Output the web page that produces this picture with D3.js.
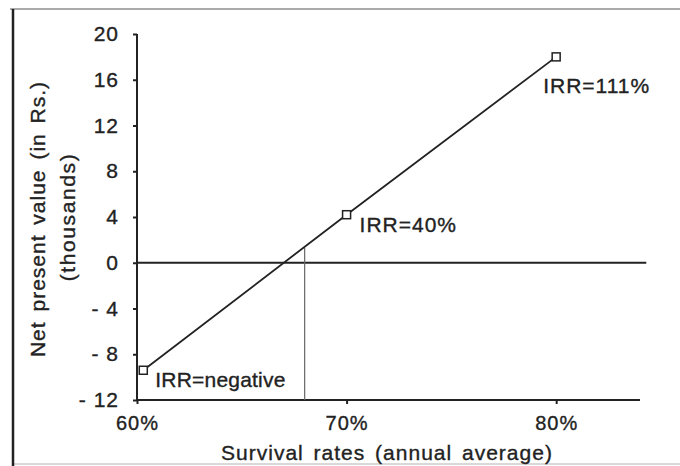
<!DOCTYPE html>
<html><head><meta charset="utf-8">
<script src="https://cdn.jsdelivr.net/npm/d3@7"></script>
<style>body{margin:0;background:#fff}svg{display:block}text{font-family:"Liberation Sans",Arial,Helvetica,sans-serif;fill:#222;stroke:#222;stroke-width:0.35px;letter-spacing:1px}</style>
</head><body>
<script>
const survival = [60.3, 70, 80];
const npv = [-9.4, 4.2, 18.0];
const irrLabels = ["IRR=negative", "IRR=40%", "IRR=111%"];
const yTicks = [20, 16, 12, 8, 4, 0, -4, -8, -12];
const xTicks = [60, 70, 80];
const breakEvenRate = 68;

const W = 680, H = 466;
const svg = d3.select("body").append("svg").attr("width", W).attr("height", H);

// frame
svg.append("line").attr("x1", 10).attr("x2", 680).attr("y1", 9).attr("y2", 9).attr("stroke", "#aaa").attr("stroke-width", 2);
svg.append("line").attr("x1", 14).attr("x2", 680).attr("y1", 464).attr("y2", 464).attr("stroke", "#ccc").attr("stroke-width", 1.5);
svg.append("line").attr("x1", 13).attr("x2", 13).attr("y1", 9).attr("y2", 466).attr("stroke", "#222").attr("stroke-width", 2.5);

const x = d3.scaleLinear().domain([60, 84]).range([137, 640]);
const y = d3.scaleLinear().domain([-12, 20]).range([400, 34]);

const fmtY = d => d < 0 ? "- " + Math.abs(d) : String(d);

const yAxis = svg.append("g").attr("transform", `translate(${x(60)},0)`)
  .call(d3.axisLeft(y).tickValues(yTicks).tickFormat(fmtY).tickSize(4).tickPadding(14));
yAxis.select(".domain").attr("stroke", "#222").attr("stroke-width", 2).attr("d", `M0,${y(20)}V${y(-12)}`);
yAxis.selectAll(".tick line").attr("stroke", "#222").attr("stroke-width", 2);
yAxis.selectAll(".tick text").style("font-size", "21px").attr("fill", "#222");

const xAxis = svg.append("g").attr("transform", `translate(0,${y(-12)})`)
  .call(d3.axisBottom(x).tickValues(xTicks).tickFormat(d => d + "%").tickSize(4).tickPadding(12));
xAxis.select(".domain").attr("stroke", "#222").attr("stroke-width", 2).attr("d", `M${x(60)},0H${x(84)}`);
xAxis.selectAll(".tick line").attr("stroke", "#222").attr("stroke-width", 2);
xAxis.selectAll(".tick text").style("font-size", "20px").attr("fill", "#222");

// zero line
svg.append("line").attr("x1", x(60)).attr("x2", x(84.3)).attr("y1", y(0)).attr("y2", y(0)).attr("stroke", "#222").attr("stroke-width", 1.8);

// break-even vertical line
const slope = (npv[2] - npv[0]) / (survival[2] - survival[0]);
const yAtBreak = npv[0] + slope * (breakEvenRate - survival[0]);
svg.append("line").attr("x1", x(breakEvenRate)).attr("x2", x(breakEvenRate))
  .attr("y1", y(-12)).attr("y2", y(yAtBreak)).attr("stroke", "#666").attr("stroke-width", 1.2);

// data line
const line = d3.line().x((d, i) => x(survival[i])).y(d => y(d));
svg.append("path").datum(npv).attr("d", line).attr("fill", "none").attr("stroke", "#222").attr("stroke-width", 1.8);

// markers
svg.selectAll("rect.m").data(npv).join("rect").attr("class", "m")
  .attr("x", (d, i) => x(survival[i]) - 4).attr("y", d => y(d) - 4)
  .attr("width", 8).attr("height", 8).attr("fill", "#fff").attr("stroke", "#222").attr("stroke-width", 1.5);

// labels
const lblDx = [12, 13, -13];
const lblDy = [17, 17, 36];
const lblSpacing = ["0.2px", "1px", "1px"];
svg.selectAll("text.lbl").data(irrLabels).join("text").attr("class", "lbl")
  .attr("x", (d, i) => x(survival[i]) + lblDx[i]).attr("y", (d, i) => y(npv[i]) + lblDy[i])
  .style("font-size", "21px").style("letter-spacing", (d, i) => lblSpacing[i]).text(d => d);

// axis titles
svg.append("text").attr("x", 387).attr("y", 460).attr("text-anchor", "middle").style("font-size", "21px").style("word-spacing", "3px")
  .text("Survival rates (annual average)");
svg.append("text").attr("transform", "translate(45,219) rotate(-90)").attr("text-anchor", "middle").style("font-size", "21px").style("word-spacing", "3px")
  .text("Net present value (in Rs.)");
svg.append("text").attr("transform", "translate(75,217) rotate(-90)").attr("text-anchor", "middle").style("font-size", "21px").style("letter-spacing", "1.6px")
  .text("(thousands)");
</script>
</body></html>
